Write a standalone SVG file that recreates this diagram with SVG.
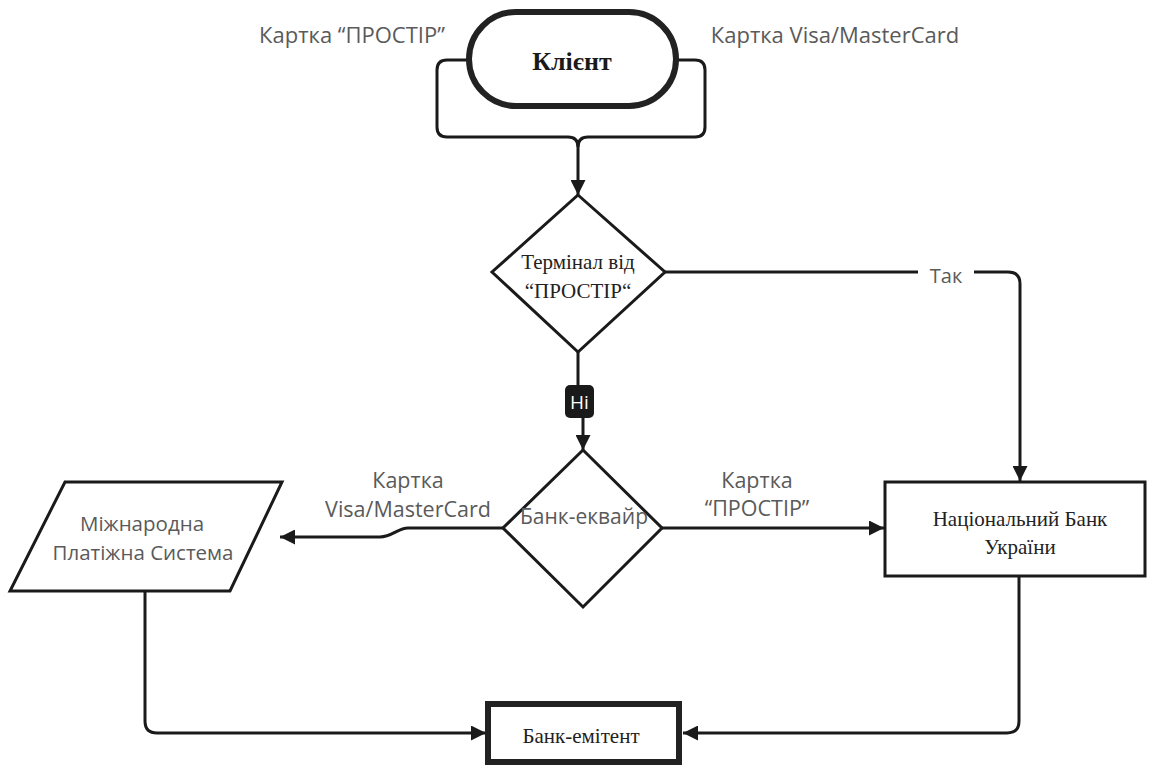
<svg xmlns="http://www.w3.org/2000/svg" width="1149" height="766" viewBox="0 0 1149 766">
<defs>
<marker id="arr" viewBox="0 0 10 10" refX="10" refY="5" markerWidth="5" markerHeight="5" markerUnits="strokeWidth" orient="auto">
<path d="M0,0 L10,5 L0,10 Z" fill="#1a1a1a"/>
</marker>
<style>
.edge{fill:none;stroke:#1a1a1a;stroke-width:3;stroke-linejoin:round}
.node{fill:#fff;stroke:#1a1a1a;stroke-width:3}
.thick{fill:#fff;stroke:#222;stroke-width:6}
.serif{font-family:"Liberation Serif","DejaVu Serif",serif;font-size:21px;fill:#222;text-anchor:middle}
.sans{font-family:"Open Sans","Noto Sans",sans-serif;font-size:20px;fill:#5a5a5a;text-anchor:middle}
.top{font-size:22px}
.el{font-size:21.5px}
.title{font-size:26px;font-weight:bold;fill:#1a1a1a}
.acq{font-size:21px}
.mps{font-size:20.5px}
.ni{font-family:"Open Sans","Noto Sans",sans-serif;font-size:19px;fill:#fff;text-anchor:middle}
</style>
</defs>
<rect width="1149" height="766" fill="#fff"/>
<g id="connectors">
<path class="edge" d="M467,60 H447 Q437,60 437,70 V127 Q437,137 447,137 H568 Q578,137 578,147 V195" marker-end="url(#arr)"/>
<path class="edge" d="M678,60 H695 Q705,60 705,70 V127 Q705,137 695,137 H588 Q578,137 578,147"/>
<path class="edge" d="M665,272 H1008 Q1020,272 1020,284 V481" marker-end="url(#arr)"/>
<rect x="918" y="258" width="56" height="30" fill="#fff"/>
<text class="sans" x="946" y="283">Так</text>
<path class="edge" d="M578,352 V400 H583 V450" marker-end="url(#arr)"/>
<g id="label-ni">
<rect x="565" y="385" width="29" height="33" rx="5" fill="#1a1a1a"/>
<text class="ni" x="579.5" y="409">Ні</text>
</g>
<path class="edge" d="M503,528 H408 C398,528 392,537 380,537 H280" marker-end="url(#arr)"/>
<text class="sans el" x="408" y="488">Картка</text>
<text class="sans el" x="408" y="517">Visa/MasterCard</text>
<path class="edge" d="M662,528 H884" marker-end="url(#arr)"/>
<text class="sans el" x="757" y="488">Картка</text>
<text class="sans el" x="757" y="516">“ПРОСТІР”</text>
<path class="edge" d="M145,591 V721 Q145,733 157,733 H486" marker-end="url(#arr)"/>
<path class="edge" d="M1019,576 V721 Q1019,733 1007,733 H683" marker-end="url(#arr)"/>
</g>
<g id="label-top-left"><text class="sans top" x="352" y="43">Картка “ПРОСТІР”</text></g>
<g id="label-top-right"><text class="sans top" x="835" y="43">Картка Visa/MasterCard</text></g>
<g id="client">
<rect class="thick" x="469" y="12" width="207" height="94" rx="47"/>
<text class="serif title" x="572" y="70">Клієнт</text>
</g>
<g id="terminal">
<polygon class="node" points="578,195 665,272 578,352 492,272"/>
<text class="serif" x="578" y="269">Термінал від</text>
<text class="serif" x="578" y="298">“ПРОСТІР“</text>
</g>
<g id="acquirer">
<polygon class="node" points="583,450 662,528 583,607 503,528"/>
<text class="sans acq" x="584" y="524">Банк-еквайр</text>
</g>
<g id="mps">
<polygon class="node" points="65,482 282,482 230,591 10,591"/>
<text class="sans mps" x="142" y="531">Міжнародна</text>
<text class="sans mps" x="143" y="560">Платіжна Система</text>
</g>
<g id="nbu">
<rect class="node" x="885" y="482" width="260" height="94"/>
<text class="serif" x="1020" y="526">Національний Банк</text>
<text class="serif" x="1020" y="554">України</text>
</g>
<g id="issuer">
<rect class="thick" x="488" y="704" width="191" height="58"/>
<text class="serif" x="581" y="743">Банк-емітент</text>
</g>
</svg>
